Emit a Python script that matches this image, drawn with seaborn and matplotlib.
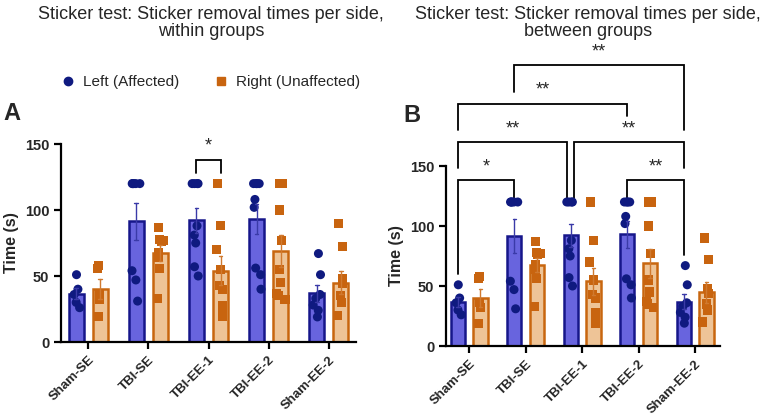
import numpy as np
import pandas as pd
import matplotlib
matplotlib.use("Agg")
import matplotlib.pyplot as plt
import seaborn as sns
from matplotlib.lines import Line2D

groups = ["Sham-SE", "TBI-SE", "TBI-EE-1", "TBI-EE-2", "Sham-EE-2"]
sides = ["Left (Affected)", "Right (Unaffected)"]

# individual removal times (s)
left_times = {
    "Sham-SE": [51, 40, 36, 30, 26],
    "TBI-SE": [120, 120, 120, 120, 120, 54, 47, 31],
    "TBI-EE-1": [120, 120, 120, 120, 88, 81, 75, 57, 50],
    "TBI-EE-2": [120, 120, 120, 120, 108, 102, 56, 51, 40],
    "Sham-EE-2": [67, 51, 36, 33, 28, 24, 19],
}
right_times = {
    "Sham-SE": [58, 56, 36, 32, 19],
    "TBI-SE": [87, 78, 77, 76, 68, 64, 56, 33],
    "TBI-EE-1": [120, 88, 70, 55, 43, 40, 28, 23, 19],
    "TBI-EE-2": [120, 120, 100, 77, 55, 45, 37, 35, 32],
    "Sham-EE-2": [90, 72, 48, 44, 35, 30, 20, 20],
}

# significance brackets for panel B: (group1, group2, height, left leg end, right leg end, label)
brackets_b = [
    (0, 1, 138, 60, 121, "*"),
    (0, 2, 170, 148, 121, "**"),
    (2, 4, 170, 121, 148, "**"),
    (3, 4, 138, 121, 76, "**"),
    (0, 3, 202, 180, 192, "**"),
    (1, 4, 234, 212, 180, "**"),
]

rows = []
for g in groups:
    for v in left_times[g]:
        rows.append((g, sides[0], v))
    for v in right_times[g]:
        rows.append((g, sides[1], v))
df = pd.DataFrame(rows, columns=["group", "side", "time"])

fill_colors = {sides[0]: "#5550f2", sides[1]: "#fdc488"}
edge_colors = {sides[0]: "#16168a", sides[1]: "#c8660f"}
err_colors = {sides[0]: "#3a3aa8", sides[1]: "#d07a30"}
dot_colors = {sides[0]: "#0f1a80", sides[1]: "#c8640f"}

sns.set_style("white")
plt.rcParams["font.family"] = ["Liberation Sans", "DejaVu Sans"]

fig = plt.figure(figsize=(7.67, 4.19), dpi=100)
ax_a = fig.add_axes([61 / 767, 77 / 419, 295 / 767, 198 / 419])
ax_b = fig.add_axes([446 / 767, 73 / 419, 274 / 767, 180 / 419])

OFF = 0.2


def draw_panel(ax, xlim):
    sns.barplot(data=df, x="group", y="time", hue="side", order=groups,
                hue_order=sides, palette=fill_colors, errorbar="se",
                gap=0.375, capsize=0.12, err_kws={"linewidth": 1.0, "zorder": 5},
                linewidth=1.8, legend=False, ax=ax)
    # bar edges and error colours per side
    for i, cont in enumerate(ax.containers):
        for bar in cont:
            bar.set_edgecolor(edge_colors[sides[i]])
    nl = len(ax.lines)
    for j, ln in enumerate(ax.lines):
        ln.set_color(err_colors[sides[0]] if j < nl // 2 else err_colors[sides[1]])
    np.random.seed(3)
    for s, m in zip(sides, ["o", "s"]):
        sns.stripplot(data=df[df["side"] == s], x="group", y="time", hue="side",
                      order=groups, hue_order=sides, dodge=True, jitter=0.15,
                      palette=dot_colors, marker=m, size=6.5, linewidth=0,
                      legend=False, ax=ax, zorder=4)
    ax.set_xlim(*xlim)
    ax.set_ylim(0, 150)
    ax.set_yticks([0, 50, 100, 150])
    ax.set_xlabel("")
    ax.set_ylabel("Time (s)", fontsize=11.5, fontweight="bold")
    sns.despine(ax=ax)
    for sp in ["left", "bottom"]:
        ax.spines[sp].set_linewidth(1.6)
        ax.spines[sp].set_color("black")
    ax.tick_params(axis="both", length=5, width=1.6, color="black",
                   bottom=True, left=True)
    ax.set_xticks(range(len(groups)))
    ax.set_xticklabels(groups, rotation=45, ha="right", rotation_mode="anchor",
                       fontsize=9.5, fontweight="bold")
    for t in ax.get_yticklabels():
        t.set_fontweight("bold")
        t.set_fontsize(10.5)


def bracket(ax, x1, x2, y, e1, e2, label):
    ax.plot([x1, x1, x2, x2], [e1, y, y, e2], color="black", lw=1.3,
            clip_on=False, solid_joinstyle="miter")
    ax.text((x1 + x2) / 2, y + 4, label, ha="center", va="bottom",
            fontsize=13, clip_on=False)


draw_panel(ax_a, (-0.45, 4.45))
draw_panel(ax_b, (-0.41, 4.44))

# panel A: within-group comparison
bracket(ax_a, 2 - OFF, 2 + OFF, 138, 128, 128, "*")

# panel B: between-group comparisons on the left side
for g1, g2, y, e1, e2, lab in brackets_b:
    x1 = g1 - OFF
    x2 = g2 - OFF
    if g2 == 2:
        x2 -= 0.06
    if g1 == 2:
        x1 += 0.06
    bracket(ax_b, x1, x2, y, e1, e2, lab)

fig.text(211 / 767, 1 - 23 / 419,
         "Sticker test: Sticker removal times per side,\nwithin groups",
         ha="center", va="center", fontsize=13, linespacing=1.05)
fig.text(588 / 767, 1 - 23 / 419,
         "Sticker test: Sticker removal times per side,\nbetween groups",
         ha="center", va="center", fontsize=13, linespacing=1.05)
fig.text(12 / 767, 1 - 114 / 419, "A", ha="center", va="center",
         fontsize=17, fontweight="bold")
fig.text(412 / 767, 1 - 116 / 419, "B", ha="center", va="center",
         fontsize=17, fontweight="bold")

handles = [Line2D([], [], marker="o", color=dot_colors[sides[0]], ls="", markersize=6),
           Line2D([], [], marker="s", color=dot_colors[sides[1]], ls="", markersize=6)]
fig.legend(handles, sides, loc="center", bbox_to_anchor=(210 / 767, 1 - 82 / 419),
           ncol=2, frameon=False, fontsize=11, handletextpad=0.5,
           columnspacing=2.2, handlelength=1.0)

fig.savefig("out.png", dpi=100)
